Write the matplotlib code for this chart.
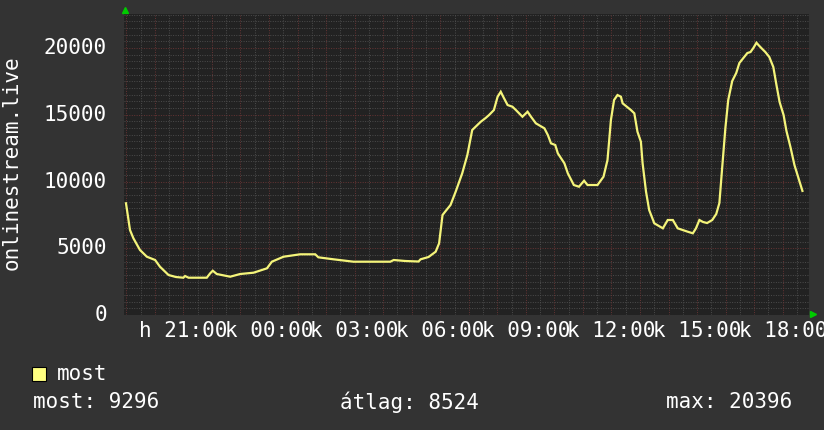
import matplotlib
matplotlib.use("Agg")
import matplotlib.pyplot as plt
from matplotlib.lines import Line2D
from matplotlib.patches import Rectangle
import numpy as np

# ---- data (hour of day, continuing past midnight as 24+) ----
hours = [18.99, 19.13, 19.25, 19.48, 19.72, 20.01, 20.18, 20.48, 20.74, 21.00,
         21.06, 21.18, 21.82, 21.94, 22.03, 22.17, 22.64, 22.99, 23.46, 23.93,
         24.10, 24.51, 25.09, 25.62, 25.73, 26.26, 26.96, 28.25, 28.37, 28.78,
         29.24, 29.31, 29.59, 29.84, 29.96, 30.08, 30.19, 30.36, 30.54, 30.77,
         30.95, 31.12, 31.30, 31.42, 31.59, 31.71, 31.88, 32.01, 32.12, 32.23,
         32.36, 32.53, 32.65, 32.88, 33.06, 33.18, 33.35, 33.65, 33.77, 33.88,
         34.03, 34.12, 34.35, 34.47, 34.68, 34.86, 35.04, 35.16, 35.51, 35.72,
         35.86, 35.98, 36.09, 36.21, 36.33, 36.39, 36.68, 36.80, 36.91, 37.03,
         37.09, 37.21, 37.32, 37.50, 37.80, 37.97, 38.15, 38.32, 38.67, 38.85,
         38.96, 39.08, 39.21, 39.35, 39.53, 39.67, 39.78, 39.88, 39.99, 40.09,
         40.23, 40.37, 40.48, 40.62, 40.76, 40.87, 40.97, 41.08, 41.15, 41.25,
         41.39, 41.53, 41.67, 41.78, 41.89, 42.03, 42.13, 42.27, 42.41, 42.55,
         42.69]
values = [8367, 6367, 5745, 4869, 4367, 4120, 3618, 2996, 2846, 2794,
          2921, 2794, 2794, 3124, 3318, 3071, 2869, 3071, 3169, 3498,
          3993, 4367, 4547, 4547, 4322, 4172, 3993, 3993, 4120, 4045,
          4007, 4172, 4345, 4742, 5371, 7491, 7790, 8240, 9236, 10614,
          11985, 13858, 14232, 14479, 14757, 14981, 15356, 16352, 16727, 16255,
          15730, 15603, 15356, 14854, 15228, 14854, 14360, 13985, 13483, 12861,
          12734, 12112, 11363, 10614, 9738, 9610, 10060, 9738, 9738, 10360,
          11610, 14607, 16105, 16479, 16352, 15858, 15356, 15109, 13730, 12981,
          11363, 9236, 7865, 6869, 6494, 7116, 7116, 6494, 6240, 6120,
          6494, 7116, 6966, 6891, 7116, 7566, 8390, 11086, 14007, 16105,
          17528, 18127, 18876, 19251, 19625, 19700, 20000, 20396, 20225, 20000,
          19700, 19326, 18577, 17228, 15955, 14981, 13783, 12584, 11236, 10262,
          9296]

series_name = "most"
y_label = "onlinestream.live"
y_ticks = [0, 5000, 10000, 15000, 20000]
x_label_hours = [21, 24, 27, 30, 33, 36, 39, 42]
x_tick_labels = ["h 21:00", "k 00:00", "k 03:00", "k 06:00",
                 "k 09:00", "k 12:00", "k 15:00", "k 18:00"]
stat_labels = ["most: 9296", "átlag: 8524", "max: 20396"]

x_start, x_end = 18.92, 42.92
y_max = 22550

W, H = 824, 430
BG = "#333333"
PLOT_BG = "#222222"
MINOR = "#4c4c4c"
MAJOR = "#663434"
LINE = "#f4f47a"
FONT = "DejaVu Sans Mono"
FS = 15

fig = plt.figure(figsize=(W / 100, H / 100), dpi=100, facecolor=BG)
L, R, T, B = 124, 809, 14, 315
ax = fig.add_axes([L / W, 1 - B / H, (R - L) / W, (B - T) / H])
ax.set_facecolor(PLOT_BG)
ax.set_xlim(x_start, x_end)
ax.set_ylim(0, y_max)
for s in ax.spines.values():
    s.set_visible(False)
ax.tick_params(left=False, bottom=False, labelleft=False, labelbottom=False)

dash = (0, (1, 1.5))
# minor grid
for h in np.arange(19.0, x_end, 0.5):
    if abs(h - round(h)) > 1e-6:
        ax.axvline(h, color=MINOR, lw=0.7, ls=dash, zorder=1)
for v in np.arange(500, y_max, 500):
    if v % 5000 != 0:
        ax.axhline(v, color=MINOR, lw=0.7, ls=dash, zorder=1)
# major grid
for h in range(19, 43):
    ax.axvline(h, color=MAJOR, lw=0.7, ls=dash, zorder=2)
for v in y_ticks:
    ax.axhline(v, color=MAJOR, lw=0.7, ls=dash, zorder=2)

ax.plot(hours, values, color=LINE, lw=1.6, zorder=5, solid_joinstyle="miter")

# y tick labels
for v in y_ticks:
    ax.annotate(str(v), xy=(0, v), xycoords=("axes fraction", "data"),
                xytext=(-17, 0), textcoords="offset pixels",
                ha="right", va="center", color="white", fontsize=FS,
                family=FONT)
# x tick labels
for h, lab in zip(x_label_hours, x_tick_labels):
    ax.annotate(lab, xy=(h, 0), xycoords=("data", "axes fraction"),
                xytext=(0, -16), textcoords="offset pixels",
                ha="center", va="center", color="white", fontsize=FS,
                family=FONT, annotation_clip=False)

def fx(x):
    return x / W

def fy(y):
    return 1 - y / H

fig.text(fx(12), fy(163), y_label, rotation=90, ha="center", va="center",
         color="white", fontsize=FS, family=FONT)

# arrows
fig.add_artist(Line2D([fx(125)], [fy(10)], marker="^", markersize=5,
                      color="#00cc00", transform=fig.transFigure))
fig.add_artist(Line2D([fx(813)], [fy(314)], marker=">", markersize=5,
                      color="#00cc00", transform=fig.transFigure))

# legend
fig.add_artist(Rectangle((fx(32), fy(381)), 14 / W, 14 / H,
                         facecolor="#ffff80", edgecolor="black", lw=0.8,
                         transform=fig.transFigure))
fig.text(fx(57), fy(374), series_name, ha="left", va="center",
         color="white", fontsize=FS, family=FONT)
fig.text(fx(33), fy(402), stat_labels[0], ha="left", va="center",
         color="white", fontsize=FS, family=FONT)
fig.text(fx(340), fy(402), stat_labels[1], ha="left", va="center",
         color="white", fontsize=FS, family=FONT)
fig.text(fx(792), fy(402), stat_labels[2], ha="right", va="center",
         color="white", fontsize=FS, family=FONT)

fig.savefig("out.png", dpi=100, facecolor=BG)
